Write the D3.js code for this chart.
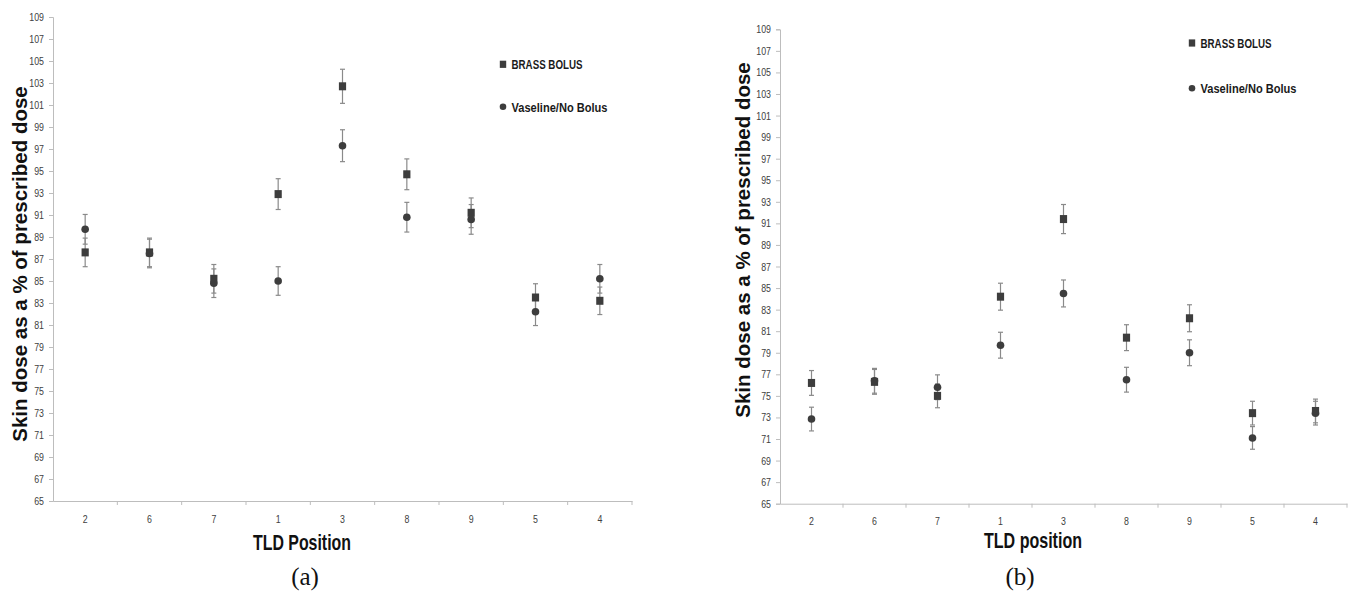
<!DOCTYPE html>
<html>
<head>
<meta charset="utf-8">
<script src="https://cdn.jsdelivr.net/npm/d3@7/dist/d3.min.js"></script>
<style>
  html, body { margin: 0; padding: 0; background: #fff; }
  svg { display: block; }
</style>
</head>
<body>
<svg id="chart" width="1351" height="592"></svg>
<script>
// ---- data ----
const categories = ["2", "6", "7", "1", "3", "8", "9", "5", "4"];
const yTicks = d3.range(65, 110, 2);

const brassA    = [87.6, 87.6, 85.2, 92.9, 102.7, 94.7, 91.2, 83.5, 83.2];
const brassAErr = [1.3, 1.3, 1.3, 1.4, 1.55, 1.4, 1.35, 1.25, 1.25];
const vaselineA    = [89.7, 87.5, 84.8, 85.0, 97.3, 90.8, 90.6, 82.2, 85.2];
const vaselineAErr = [1.35, 1.3, 1.3, 1.3, 1.45, 1.35, 1.35, 1.25, 1.3];

const brassB    = [76.2, 76.3, 75.0, 84.2, 91.4, 80.4, 82.2, 73.4, 73.6];
const brassBErr = [1.15, 1.15, 1.1, 1.25, 1.35, 1.2, 1.25, 1.1, 1.1];
const vaselineB    = [72.85, 76.4, 75.8, 79.7, 84.5, 76.5, 79.0, 71.1, 73.4];
const vaselineBErr = [1.1, 1.15, 1.15, 1.2, 1.25, 1.15, 1.2, 1.05, 1.1];

const legendLabels = ["BRASS BOLUS", "Vaseline/No Bolus"];
const yTitle = "Skin dose as a % of prescribed dose";

const svg = d3.select("#chart");
const sans = '"Liberation Sans", Arial, sans-serif';
const markerCol = "#3d3d3d";
const errCol = "#8a8a8a";
const axisCol = "#bdbdbd";

function condense(sel, perChar) {
  sel.attr("textLength", function () { return this.textContent.length * perChar; })
     .attr("lengthAdjust", "spacingAndGlyphs");
}

function panel(cfg) {
  const x = d3.scaleBand().domain(categories).range([cfg.x0, cfg.x1]).padding(0);
  const y = d3.scaleLinear().domain([65, 109]).range([cfg.yBottom, cfg.yTop]);
  const g = svg.append("g");

  // y axis
  const ya = g.append("g").attr("transform", `translate(${cfg.x0},0)`)
    .call(d3.axisLeft(y).tickValues(yTicks).tickSize(4).tickPadding(5).tickFormat(d3.format("d")));
  ya.select(".domain").attr("stroke", axisCol);
  ya.selectAll(".tick line").attr("stroke", axisCol);
  ya.selectAll(".tick text").attr("fill", "#404040").attr("font-family", sans).style("font-size", "11px")
    .call(condense, 4.9);

  // x axis (labels centred in bands, tick marks at band boundaries)
  const xa = g.append("g").attr("transform", `translate(0,${cfg.yBottom})`)
    .call(d3.axisBottom(x).tickSize(0).tickPadding(cfg.xPad));
  xa.select(".domain").attr("stroke", axisCol);
  xa.selectAll(".tick text").attr("fill", "#404040").attr("font-family", sans).style("font-size", "11px")
    .call(condense, 4.9);
  const bounds = categories.map(c => x(c)).concat([x(categories[categories.length - 1]) + x.bandwidth()]);
  g.append("g").selectAll("line").data(bounds.slice(1)).join("line")
    .attr("x1", d => d).attr("x2", d => d)
    .attr("y1", cfg.yBottom).attr("y2", cfg.yBottom + 4)
    .attr("stroke", axisCol);

  const cx = c => x(c) + x.bandwidth() / 2;

  function errorBars(vals, errs) {
    const eg = g.append("g").attr("stroke", errCol).attr("stroke-width", 1.2);
    categories.forEach((c, i) => {
      const xc = cx(c), hi = y(vals[i] + errs[i]), lo = y(vals[i] - errs[i]);
      eg.append("line").attr("x1", xc).attr("x2", xc).attr("y1", hi).attr("y2", lo);
      eg.append("line").attr("x1", xc - 2.5).attr("x2", xc + 2.5).attr("y1", hi).attr("y2", hi);
      eg.append("line").attr("x1", xc - 2.5).attr("x2", xc + 2.5).attr("y1", lo).attr("y2", lo);
    });
  }
  errorBars(cfg.vas, cfg.vasErr);
  errorBars(cfg.brass, cfg.brassErr);

  g.append("g").selectAll("circle").data(cfg.vas).join("circle")
    .attr("cx", (d, i) => cx(categories[i])).attr("cy", d => y(d))
    .attr("r", 3.8).attr("fill", markerCol);
  g.append("g").selectAll("rect").data(cfg.brass).join("rect")
    .attr("x", (d, i) => cx(categories[i]) - 3.6).attr("y", d => y(d) - 4)
    .attr("width", 7.2).attr("height", 8).attr("fill", markerCol);

  // legend
  const lg = g.append("g").attr("transform", `translate(${cfg.legX},0)`);
  lg.append("rect").attr("x", -3.2).attr("y", cfg.legY1 - 3.6).attr("width", 6.4).attr("height", 7.2).attr("fill", markerCol);
  lg.append("circle").attr("cx", 0).attr("cy", cfg.legY2).attr("r", 3.3).attr("fill", markerCol);
  const legW = [71, 96];
  lg.selectAll("text").data(legendLabels).join("text")
    .attr("x", 8.5).attr("y", (d, i) => (i === 0 ? cfg.legY1 : cfg.legY2) + 5)
    .attr("font-family", sans).attr("font-weight", "bold").attr("font-size", 13.5)
    .attr("textLength", (d, i) => legW[i]).attr("lengthAdjust", "spacingAndGlyphs")
    .attr("fill", "#1a1a1a").text(d => d);

  // titles
  g.append("text")
    .attr("transform", `translate(${cfg.yTitleX},${cfg.yTitleY}) rotate(-90)`)
    .attr("text-anchor", "middle").attr("dominant-baseline", "central")
    .attr("font-family", sans).attr("font-weight", "bold")
    .attr("font-size", 20.5).attr("fill", "#111").text(yTitle);
  g.append("text")
    .attr("x", cfg.xTitleX).attr("y", cfg.xTitleY).attr("text-anchor", "middle")
    .attr("font-family", sans).attr("font-weight", "bold").attr("font-size", 21.5)
    .attr("textLength", 98).attr("lengthAdjust", "spacingAndGlyphs")
    .attr("fill", "#111").text(cfg.xTitle);
  g.append("text")
    .attr("x", cfg.capX).attr("y", 585).attr("text-anchor", "middle")
    .attr("font-family", '"Liberation Serif", "Times New Roman", serif')
    .attr("font-size", 25).attr("fill", "#111").text(cfg.caption);
}

panel({
  x0: 53, x1: 632, yTop: 17, yBottom: 501, xPad: 14,
  brass: brassA, brassErr: brassAErr, vas: vaselineA, vasErr: vaselineAErr,
  legX: 503, legY1: 64.3, legY2: 106.7,
  yTitleX: 19, yTitleY: 264, xTitleX: 302, xTitleY: 550, xTitle: "TLD Position",
  capX: 305, caption: "(a)"
});
panel({
  x0: 780, x1: 1347, yTop: 29.3, yBottom: 503.7, xPad: 14,
  brass: brassB, brassErr: brassBErr, vas: vaselineB, vasErr: vaselineBErr,
  legX: 1192, legY1: 43, legY2: 88.3,
  yTitleX: 742, yTitleY: 240, xTitleX: 1033, xTitleY: 548, xTitle: "TLD position",
  capX: 1020, caption: "(b)"
});
</script>
</body>
</html>
